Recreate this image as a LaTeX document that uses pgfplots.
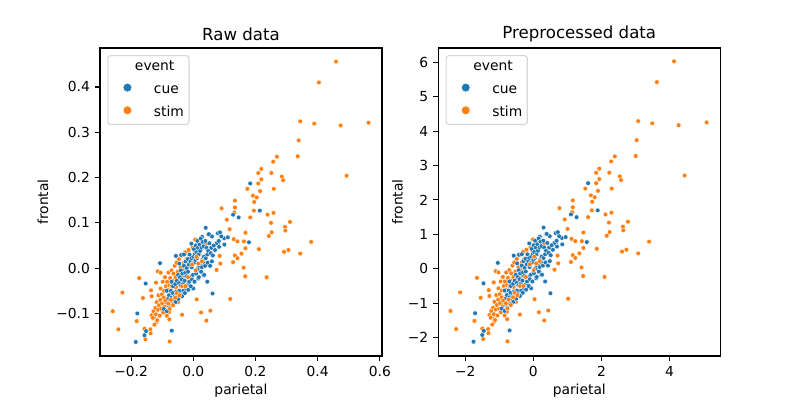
\documentclass[border=0pt]{standalone}
\usepackage{fontspec}
\setmainfont{DejaVu Sans}
\usepackage{pgfplots}
\usepackage{pgfplotstable}
\pgfplotsset{compat=1.18}
\definecolor{cue}{HTML}{1F77B4}
\definecolor{stim}{HTML}{FF7F0E}
\definecolor{legframe}{HTML}{CCCCCC}

\pgfplotstableread{
x y
0.183 0.187
0.214 0.127
0.128 0.118
0.146 0.112
0.179 0.057
0.079 0.077
0.086 0.079
0.099 0.066
0.111 0.068
0.080 0.056
0.083 0.047
0.040 0.089
0.062 -0.056
-0.107 0.011
-0.153 -0.034
-0.180 -0.100
-0.185 -0.163
-0.157 -0.148
-0.152 -0.139
-0.069 -0.138
-0.056 0.027
-0.039 0.029
-0.006 0.054
0.028 0.069
0.021 0.049
0.075 0.055
0.090 0.070
0.082 0.060
0.100 0.052
0.070 0.040
0.016 -0.023
0.033 -0.016
-0.030 0.030
-0.045 0.010
0.045 -0.030
-0.070 -0.030
-0.085 -0.050
0.000 -0.045
0.060 0.070
0.050 0.075
-0.095 -0.090
-0.088 -0.075
-0.085 -0.095
-0.082 -0.068
-0.080 -0.082
-0.078 -0.060
-0.076 -0.088
-0.072 -0.050
-0.070 -0.065
-0.068 -0.080
-0.066 -0.055
-0.065 -0.040
-0.063 -0.070
-0.060 -0.062
-0.058 -0.035
-0.057 -0.075
-0.055 -0.052
-0.053 -0.028
-0.052 -0.060
-0.049 -0.015
-0.048 -0.068
-0.046 -0.033
-0.045 -0.050
-0.043 -0.020
-0.042 -0.058
-0.041 -0.038
-0.040 -0.005
-0.037 -0.025
-0.036 -0.062
-0.035 -0.012
-0.033 -0.035
-0.032 -0.050
-0.030 0.005
-0.029 -0.040
-0.028 -0.028
-0.027 -0.055
-0.026 -0.010
-0.025 0.015
-0.023 -0.045
-0.022 -0.018
-0.021 0.000
-0.020 -0.038
-0.018 0.020
-0.017 -0.008
-0.016 -0.048
-0.014 0.008
-0.013 -0.030
-0.012 0.030
-0.010 -0.020
-0.009 0.015
-0.008 -0.040
-0.006 0.022
-0.005 0.002
-0.004 -0.025
-0.002 0.010
-0.001 -0.015
0.000 0.025
0.002 0.042
0.003 0.012
0.004 -0.030
0.005 0.030
0.007 0.018
0.008 0.050
0.009 -0.012
0.010 0.035
0.012 0.022
0.013 0.060
0.014 -0.002
0.015 0.045
0.017 0.030
0.018 -0.020
0.019 0.005
0.020 0.052
0.022 0.038
0.023 0.010
0.024 0.065
0.025 -0.008
0.027 0.045
0.028 0.002
0.029 0.018
0.030 0.058
0.032 0.012
0.033 0.048
0.034 0.025
0.035 -0.015
0.038 0.005
0.039 0.060
0.040 0.022
0.042 0.045
0.045 0.030
0.046 0.012
0.048 0.038
0.052 0.055
0.054 0.005
0.056 0.033
0.058 0.045
0.060 0.015
0.063 0.028
0.066 0.050
}\cuetab

\pgfplotstableread{
x y
0.459 0.456
0.404 0.410
0.344 0.324
0.389 0.319
0.474 0.315
0.564 0.321
0.339 0.282
0.336 0.247
0.269 0.246
0.257 0.235
0.219 0.219
0.209 0.210
0.251 0.210
0.285 0.202
0.289 0.194
0.493 0.204
0.219 0.196
0.209 0.187
0.174 0.175
0.215 0.170
0.259 0.175
0.192 0.160
0.204 0.156
0.196 0.146
0.134 0.149
0.134 0.134
0.091 0.132
0.132 0.123
0.195 0.127
0.258 0.122
0.239 0.118
0.183 0.112
0.108 0.107
0.250 0.100
0.295 0.091
0.296 0.083
0.311 0.102
0.252 0.079
0.243 0.071
0.168 0.078
0.117 0.086
0.130 0.064
0.142 0.059
0.163 0.059
0.379 0.058
0.211 0.042
0.306 0.040
0.292 0.036
0.344 0.032
0.168 0.044
0.155 0.032
0.134 0.028
0.142 0.022
0.085 0.027
0.128 0.013
0.162 0.001
0.167 -0.018
0.236 -0.020
0.087 0.010
0.075 -0.004
0.119 -0.068
0.055 -0.094
0.025 -0.098
0.042 -0.116
0.011 -0.069
-0.036 -0.103
-0.076 -0.162
-0.259 -0.095
-0.241 -0.135
-0.228 -0.054
-0.174 -0.022
-0.162 -0.066
-0.182 -0.117
-0.157 -0.134
-0.138 -0.135
-0.137 -0.144
-0.154 -0.157
-0.134 -0.062
-0.136 -0.049
-0.077 -0.113
-0.078 -0.097
-0.095 -0.063
-0.114 -0.007
-0.105 -0.010
-0.120 -0.032
-0.134 -0.104
-0.129 -0.110
-0.118 -0.119
-0.123 -0.106
0.048 0.074
0.006 0.063
0.005 0.043
-0.015 0.038
-0.021 0.015
0.024 0.041
0.041 0.054
-0.130 -0.110
-0.128 -0.095
-0.125 -0.125
-0.122 -0.088
-0.120 -0.102
-0.118 -0.075
-0.116 -0.115
-0.114 -0.092
-0.112 -0.060
-0.110 -0.082
-0.108 -0.105
-0.106 -0.070
-0.105 -0.045
-0.103 -0.090
-0.101 -0.058
-0.100 -0.078
-0.098 -0.030
-0.097 -0.098
-0.095 -0.065
-0.094 -0.050
-0.092 -0.085
-0.091 -0.020
-0.088 -0.040
-0.085 -0.105
-0.084 -0.030
-0.082 -0.048
-0.080 -0.010
-0.077 -0.038
-0.074 -0.022
-0.070 -0.005
-0.069 -0.040
-0.066 -0.028
-0.064 -0.012
-0.061 -0.035
-0.060 0.005
-0.057 -0.020
-0.056 -0.042
-0.054 0.012
-0.052 -0.030
-0.050 -0.008
-0.049 -0.075
-0.046 0.020
-0.045 -0.022
-0.042 -0.035
-0.041 0.002
-0.038 -0.015
-0.037 0.028
-0.033 -0.005
-0.032 -0.028
-0.030 0.012
-0.028 -0.018
-0.026 0.035
-0.024 -0.008
-0.022 0.020
-0.018 0.005
-0.015 0.040
-0.012 0.015
-0.008 0.028
-0.002 0.045
0.005 0.035
0.013 0.050
0.020 0.030
}\stimtabA

\pgfplotstableread{
x y
-0.090 -0.072
-0.081 -0.078
-0.076 -0.090
-0.072 -0.070
-0.065 -0.082
-0.058 -0.065
-0.053 -0.055
-0.044 -0.060
-0.036 -0.040
-0.025 -0.040
-0.017 -0.020
-0.004 0.008
0.008 -0.005
0.016 0.010
0.028 0.015
0.010 0.025
}\stimtabB

\pgfplotsset{
  myaxis/.style={
    scale only axis, width=2.82in, height=3.08in,
    line width=0.8pt,
    tick align=outside, tick pos=left,
    major tick length=0.049in,
    every tick/.style={black, line width=0.8pt},
    tick label style={font=\fontsize{10}{12}\selectfont},
    label style={font=\fontsize{10}{12}\selectfont},
    every axis title shift=0pt,
    title style={font=\fontsize{12}{14}\selectfont, at={(axis description cs:0.5,1.045)}, anchor=center},
    xlabel style={at={(axis description cs:0.5,-0.114)}, anchor=center},
    legend cell align=left,
    legend style={at={(axis description cs:0.026,0.977)}, anchor=north west,
      draw=legframe, line width=0.8pt, rounded corners=2pt, fill=white,
      fill opacity=0.8, draw opacity=0.8, text opacity=1,
      inner xsep=0.05in, inner ysep=3.5pt,
      font=\fontsize{10}{12}\selectfont,
      nodes={inner sep=0pt, text height=7.5pt, text depth=2.5pt},
      row sep=6.4pt, column sep=0.05in},
    legend image code/.code={\path (0,0) (0.35in,0);
      \draw[#1, fill opacity=1, draw opacity=1] plot coordinates {(0.14in,0.18em)};},
  },
  cuemarks/.style={only marks, mark=*, mark size=1.7pt,
    mark options={fill=cue, draw=white, line width=0.25pt}},
  stimmarks/.style={only marks, mark=*, mark size=1.7pt,
    mark options={fill=stim, draw=white, line width=0.25pt}},
  cueleg/.style={only marks, mark=*, mark size=3.2pt,
    mark options={fill=cue, draw=white, line width=0.4pt}},
  stimleg/.style={only marks, mark=*, mark size=3.2pt,
    mark options={fill=stim, draw=white, line width=0.4pt}},
}

\begin{document}
\begin{tikzpicture}
\useasboundingbox (0,0) rectangle (8in,4in);

\begin{axis}[myaxis,
  at={(1.0in,0.44in)}, anchor=south west,
  xmin=-0.300, xmax=0.607, ymin=-0.194, ymax=0.486,
  xtick={-0.2,0,0.2,0.4,0.6},
  xticklabels={−0.2,0.0,0.2,0.4,0.6},
  ytick={-0.1,0,0.1,0.2,0.3,0.4},
  yticklabels={−0.1,0.0,0.1,0.2,0.3,0.4},
  title={Raw data}, xlabel={parietal}, ylabel={frontal},
  ylabel style={at={(axis description cs:-0.202,0.5)}, anchor=center},
]
\addlegendimage{empty legend}
\addlegendentry{\hspace{-0.19in}event}
\addplot[stimmarks, forget plot] table[x=x, y=y] {\stimtabA};
\addplot[cuemarks, forget plot] table[x=x, y=y] {\cuetab};
\addplot[stimmarks, forget plot] table[x=x, y=y] {\stimtabB};
\addlegendimage{cueleg}
\addlegendentry{cue}
\addlegendimage{stimleg}
\addlegendentry{stim}
\end{axis}

\begin{axis}[myaxis,
  at={(4.383in,0.44in)}, anchor=south west,
  xmin=-2.79, xmax=5.49, ymin=-2.54, ymax=6.42,
  xtick={-2,0,2,4},
  xticklabels={−2,0,2,4},
  ytick={-2,-1,0,1,2,3,4,5,6},
  yticklabels={−2,−1,0,1,2,3,4,5,6},
  title={Preprocessed data}, xlabel={parietal}, ylabel={frontal},
  ylabel style={at={(axis description cs:-0.145,0.5)}, anchor=center},
]
\addlegendimage{empty legend}
\addlegendentry{\hspace{-0.19in}event}
\addplot[stimmarks, forget plot] table[x expr=9.14*\thisrow{x}-0.065, y expr=13.18*\thisrow{y}+0.023] {\stimtabA};
\addplot[cuemarks, forget plot] table[x expr=9.14*\thisrow{x}-0.065, y expr=13.18*\thisrow{y}+0.023] {\cuetab};
\addplot[stimmarks, forget plot] table[x expr=9.14*\thisrow{x}-0.065, y expr=13.18*\thisrow{y}+0.023] {\stimtabB};
\addlegendimage{cueleg}
\addlegendentry{cue}
\addlegendimage{stimleg}
\addlegendentry{stim}
\end{axis}
\end{tikzpicture}
\end{document}
